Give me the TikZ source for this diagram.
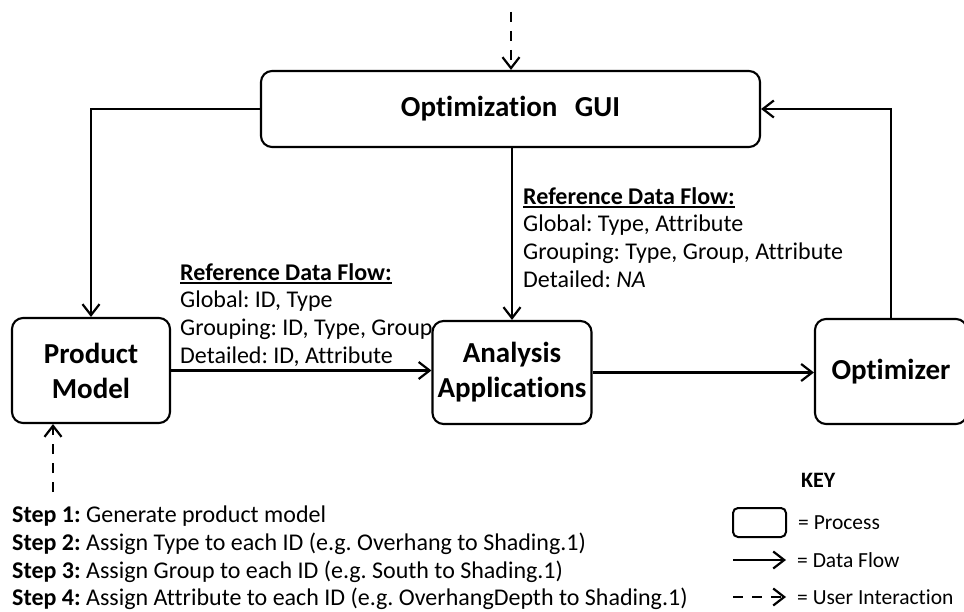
\documentclass[tikz,border=0pt]{standalone}
\usepackage{fontspec}
\setmainfont{Carlito}[Ligatures=NoCommon]
\frenchspacing
\usetikzlibrary{arrows.meta}
\usetikzlibrary{positioning}

% bold heading with a thick rule under it
\newsavebox{\flowheadbox}
\newcommand{\flowhead}[1]{\sbox{\flowheadbox}{\textbf{#1}}\rlap{\usebox{\flowheadbox}}\rule[-3.6pt]{\wd\flowheadbox}{1.6pt}}

\begin{document}
\begin{tikzpicture}[x=1pt, y=-1pt,
        procnode/.style={draw=black, line width=2.1pt, rounded corners=11pt, align=center, inner sep=0pt, font=\fontsize{29}{35}\selectfont\bfseries},
        flow/.style={line width=2.2pt, -{Straight Barb[length=11pt, width=17pt, line width=2.2pt]}},
        userflow/.style={flow, dash pattern=on 10pt off 9pt},
        flowtext/.style={anchor=north west, align=left, inner sep=0pt, font=\fontsize{24}{27.7}\selectfont},
        keytext/.style={inner sep=0pt, font=\fontsize{21.5}{26}\selectfont}]
    \useasboundingbox (0,0) rectangle (964,612);

    \node[procnode, minimum width=499pt, minimum height=76pt] (gui) at (510.5,109) {Optimization\hspace{0.6em}GUI};
    \node[procnode, minimum width=158pt, minimum height=105pt] (prod) at (91,370.5) {Product\\Model};
    \node[procnode, minimum width=159pt, minimum height=103pt] (ana) at (512,372.5) {Analysis\\Applications};
    \node[procnode, minimum width=152pt, minimum height=105pt] (opt) at (891,371.5) {Optimizer};

    \draw[flow] (gui.west) -- (gui.west -| prod.north) -- (prod.north);
    \draw[flow] (ana.north |- gui.south) -- (ana.north);
    \draw[flow] (prod.east) -- (prod.east -| ana.west);
    \draw[flow] (ana.east) -- (ana.east -| opt.west);
    \draw[flow] (opt.north) -- (opt.north |- gui.east) -- (gui.east);

    % user interaction
    \coordinate (guiuser) at (511,12);
    \coordinate (produser) at (53,492);
    \draw[userflow] (guiuser) -- (guiuser |- gui.north);
    \draw[userflow] (produser) -- (produser |- prod.south);

    \node[flowtext] (prodflow) at (180,263) {\flowhead{Reference Data Flow:}\\Global: ID, Type\\Grouping: ID, Type, Group\\Detailed: ID, Attribute};
    \node[flowtext] (guiflow) at (523,187) {\flowhead{Reference Data Flow:}\\Global: Type, Attribute\\Grouping: Type, Group, Attribute\\Detailed: \textit{NA}};

    \node[flowtext] (steps) at (12,506) {\textbf{Step 1:} Generate product model\\
        \textbf{Step 2:} Assign Type to each ID (e.g. Overhang to Shading.1)\\
        \textbf{Step 3:} Assign Group to each ID (e.g. South to Shading.1)\\
        \textbf{Step 4:} Assign Attribute to each ID (e.g. OverhangDepth to Shading.1)};

    % key
    \node[anchor=base west, inner sep=0pt, font=\fontsize{22}{26}\selectfont\bfseries] (keytitle) at (801,487) {KEY};
    \node[draw=black, line width=2pt, rounded corners=5pt, minimum width=53pt, minimum height=29pt, inner sep=0pt] (keyproc) at (759.5,522.5) {};
    \node[keytext] (keyproctext) [right=11pt of keyproc] {= Process};
    \coordinate (keyflowa) at (733,560);
    \coordinate (keyflowb) at (786,560);
    \draw[flow] (keyflowa) -- (keyflowb);
    \node[keytext] (keyflowtext) [right=11pt of keyflowb] {= Data Flow};
    \coordinate (keyusera) at (733,597);
    \coordinate (keyuserb) at (786,597);
    \draw[userflow] (keyusera) -- (keyuserb);
    \node[keytext] (keyusertext) [right=11pt of keyuserb] {= User Interaction};
\end{tikzpicture}
\end{document}
